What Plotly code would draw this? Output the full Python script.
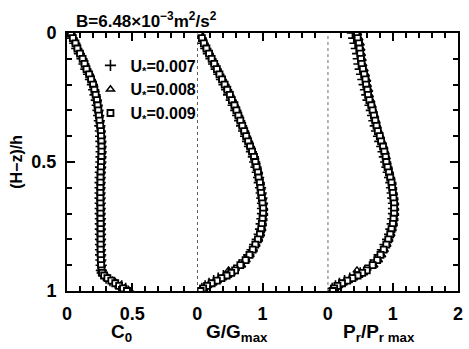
import plotly.graph_objects as go
from plotly.subplots import make_subplots

# normalized depth (H-z)/h
depth = [0.00, 0.02, 0.04, 0.06, 0.08, 0.10, 0.12, 0.14, 0.16, 0.18,
         0.20, 0.22, 0.24, 0.26, 0.28, 0.30, 0.32, 0.34, 0.36, 0.38,
         0.40, 0.42, 0.44, 0.46, 0.48, 0.50, 0.52, 0.54, 0.56, 0.58,
         0.60, 0.62, 0.64, 0.66, 0.68, 0.70, 0.72, 0.74, 0.76, 0.78,
         0.80, 0.82, 0.84, 0.86, 0.88, 0.90, 0.92, 0.93, 0.94, 0.95,
         0.96, 0.97, 0.98, 0.99, 1.00]

# C0 profiles
c0_u007 = [0.02, 0.04, 0.06, 0.075, 0.095, 0.115, 0.13, 0.145, 0.165, 0.18,
           0.195, 0.205, 0.215, 0.225, 0.232, 0.238, 0.243, 0.248, 0.252, 0.256,
           0.258, 0.26, 0.262, 0.262, 0.261, 0.26, 0.258, 0.256, 0.255, 0.254,
           0.254, 0.254, 0.254, 0.255, 0.255, 0.255, 0.256, 0.256, 0.256, 0.257,
           0.257, 0.257, 0.257, 0.258, 0.26, 0.262, 0.264, 0.27, 0.28, 0.30,
           0.33, 0.37, 0.42, 0.45, 0.47]
c0_u008 = [0.035, 0.05, 0.07, 0.085, 0.105, 0.125, 0.14, 0.155, 0.175, 0.19,
           0.205, 0.215, 0.225, 0.232, 0.238, 0.243, 0.248, 0.253, 0.258, 0.262,
           0.265, 0.267, 0.268, 0.268, 0.267, 0.265, 0.263, 0.261, 0.26, 0.259,
           0.259, 0.258, 0.258, 0.258, 0.259, 0.259, 0.26, 0.26, 0.26, 0.26,
           0.26, 0.26, 0.261, 0.262, 0.263, 0.265, 0.268, 0.275, 0.29, 0.32,
           0.35, 0.38, 0.41, 0.44, 0.48]
c0_u009 = [0.03, 0.045, 0.065, 0.08, 0.10, 0.12, 0.135, 0.15, 0.17, 0.185,
           0.20, 0.21, 0.22, 0.23, 0.235, 0.24, 0.245, 0.25, 0.255, 0.26,
           0.262, 0.264, 0.265, 0.265, 0.264, 0.262, 0.26, 0.258, 0.257, 0.257,
           0.256, 0.256, 0.256, 0.256, 0.257, 0.257, 0.257, 0.258, 0.258, 0.258,
           0.258, 0.258, 0.258, 0.259, 0.26, 0.262, 0.265, 0.27, 0.285, 0.31,
           0.34, 0.37, 0.40, 0.43, 0.46]

# G/Gmax profiles
g_u007 = [0.02, 0.06, 0.09, 0.13, 0.17, 0.21, 0.25, 0.29, 0.33, 0.37,
          0.41, 0.45, 0.48, 0.52, 0.55, 0.59, 0.62, 0.65, 0.68, 0.71,
          0.74, 0.77, 0.80, 0.83, 0.86, 0.88, 0.90, 0.92, 0.94, 0.95,
          0.97, 0.98, 0.99, 1.00, 1.00, 1.00, 0.99, 0.98, 0.97, 0.95,
          0.92, 0.88, 0.84, 0.79, 0.72, 0.64, 0.56, 0.48, 0.40, 0.32,
          0.25, 0.18, 0.12, 0.07, 0.04]
g_u008 = [0.04, 0.08, 0.11, 0.15, 0.19, 0.23, 0.27, 0.31, 0.35, 0.39,
          0.43, 0.47, 0.51, 0.54, 0.58, 0.61, 0.64, 0.67, 0.70, 0.73,
          0.76, 0.79, 0.82, 0.85, 0.88, 0.90, 0.92, 0.94, 0.95, 0.97,
          0.98, 0.99, 1.00, 1.01, 1.02, 1.02, 1.01, 1.00, 0.99, 0.97,
          0.94, 0.90, 0.86, 0.81, 0.75, 0.68, 0.48, 0.52, 0.47, 0.39,
          0.31, 0.24, 0.16, 0.10, 0.06]
g_u009 = [0.03, 0.07, 0.10, 0.14, 0.18, 0.22, 0.26, 0.30, 0.34, 0.38,
          0.42, 0.46, 0.50, 0.53, 0.57, 0.60, 0.63, 0.66, 0.69, 0.72,
          0.75, 0.78, 0.81, 0.84, 0.87, 0.89, 0.91, 0.93, 0.94, 0.96,
          0.97, 0.98, 0.99, 1.00, 1.01, 1.01, 1.00, 0.99, 0.98, 0.96,
          0.93, 0.89, 0.85, 0.80, 0.74, 0.66, 0.58, 0.52, 0.45, 0.37,
          0.30, 0.22, 0.15, 0.09, 0.05]

# Pr/Pr max profiles
p_u007 = [0.38, 0.40, 0.42, 0.44, 0.46, 0.47, 0.48, 0.50, 0.52, 0.54,
          0.56, 0.58, 0.60, 0.62, 0.65, 0.67, 0.69, 0.71, 0.73, 0.75,
          0.78, 0.80, 0.83, 0.85, 0.87, 0.89, 0.91, 0.93, 0.95, 0.97,
          0.98, 0.99, 1.00, 1.01, 1.01, 1.01, 1.00, 0.99, 0.97, 0.95,
          0.92, 0.88, 0.84, 0.79, 0.73, 0.66, 0.57, 0.50, 0.42, 0.34,
          0.26, 0.18, 0.12, 0.07, 0.05]
p_u008 = [0.46, 0.48, 0.50, 0.51, 0.52, 0.53, 0.54, 0.56, 0.58, 0.60,
          0.61, 0.63, 0.64, 0.66, 0.68, 0.70, 0.72, 0.74, 0.76, 0.78,
          0.81, 0.83, 0.86, 0.88, 0.90, 0.91, 0.93, 0.95, 0.97, 0.99,
          1.00, 1.01, 1.02, 1.03, 1.03, 1.03, 1.02, 1.01, 0.99, 0.97,
          0.94, 0.91, 0.87, 0.83, 0.78, 0.71, 0.45, 0.55, 0.48, 0.40,
          0.32, 0.24, 0.17, 0.11, 0.09]
p_u009 = [0.44, 0.46, 0.48, 0.49, 0.50, 0.51, 0.52, 0.54, 0.56, 0.58,
          0.59, 0.61, 0.62, 0.64, 0.67, 0.69, 0.71, 0.73, 0.75, 0.77,
          0.80, 0.82, 0.85, 0.87, 0.89, 0.90, 0.92, 0.94, 0.96, 0.98,
          0.99, 1.00, 1.01, 1.02, 1.02, 1.02, 1.01, 1.00, 0.98, 0.96,
          0.93, 0.90, 0.86, 0.81, 0.76, 0.69, 0.60, 0.53, 0.46, 0.38,
          0.30, 0.22, 0.15, 0.10, 0.08]

series_names = ["U<sub>*</sub>=0.007", "U<sub>*</sub>=0.008", "U<sub>*</sub>=0.009"]
series_symbols = ["cross-thin", "triangle-up-open", "square"]
series_fill = ["black", "black", "white"]
series_size = [8, 7, 6]
series_lw = [1.6, 1.5, 1.8]
c0_data = [c0_u007, c0_u008, c0_u009]
g_data = [g_u007, g_u008, g_u009]
p_data = [p_u007, p_u008, p_u009]

FONT = "Liberation Sans"

fig = make_subplots(rows=1, cols=3, shared_yaxes=True, horizontal_spacing=0)

for i in range(3):
    for col, xs in enumerate([c0_data[i], g_data[i], p_data[i]], start=1):
        fig.add_trace(go.Scatter(
            x=xs, y=depth, mode="markers", name=series_names[i],
            legendgroup=series_names[i], showlegend=(col == 1),
            marker=dict(symbol=series_symbols[i], size=series_size[i], color=series_fill[i],
                        line=dict(color="black", width=series_lw[i])),
        ), row=1, col=col)

tickfont = dict(family=FONT, size=18, color="black", weight="bold")
xcommon = dict(showline=True, linecolor="black", linewidth=2, mirror="allticks",
               ticks="inside", ticklen=8, tickwidth=1.5, tickcolor="black",
               showgrid=False, zeroline=False, ticklabelstandoff=5,
               tickfont=tickfont)

fig.update_xaxes(range=[0, 1], tickvals=[0, 0.5], ticktext=["0", "0.5"],
                 minor=dict(ticks="inside", ticklen=5, tickwidth=1.5, tickcolor="black",
                            dtick=0.1, tick0=0, showgrid=False),
                 **xcommon, row=1, col=1)
fig.update_xaxes(range=[0, 2], tickvals=[0, 1], ticktext=["0", "1"],
                 minor=dict(ticks="inside", ticklen=5, tickwidth=1.5, tickcolor="black",
                            dtick=0.2, tick0=0, showgrid=False),
                 **xcommon, row=1, col=2)
fig.update_xaxes(range=[0, 2], tickvals=[0, 1, 2], ticktext=["0", "1", "2"],
                 minor=dict(ticks="inside", ticklen=5, tickwidth=1.5, tickcolor="black",
                            dtick=0.2, tick0=0, showgrid=False),
                 **xcommon, row=1, col=3)

yminor = dict(ticks="inside", ticklen=5, tickwidth=1.5, tickcolor="black",
              dtick=0.1, tick0=0, showgrid=False)
fig.update_yaxes(range=[1, 0], showgrid=False, zeroline=False)
fig.update_yaxes(showline=True, linecolor="black", linewidth=2, ticks="inside",
                 ticklen=8, tickwidth=1.5, tickcolor="black",
                 tickvals=[0, 0.5, 1], ticktext=["0", "0.5", "1"], ticklabelstandoff=5,
                 tickfont=tickfont, minor=yminor, row=1, col=1)
fig.update_yaxes(showline=False, ticks="", showticklabels=False, row=1, col=2)
fig.update_yaxes(showline=True, linecolor="black", linewidth=2, side="right",
                 ticks="inside", ticklen=8, tickwidth=1.5, tickcolor="black",
                 tickvals=[0, 0.5, 1], showticklabels=False, minor=yminor, row=1, col=3)

for xr in ["x2", "x3"]:
    fig.add_shape(type="line", xref=xr, yref="paper", x0=0, x1=0, y0=0, y1=1,
                  line=dict(color="black", width=1.2, dash="dot"))

fig.add_annotation(text="B=6.48×10<sup>−3</sup>m<sup>2</sup>/s<sup>2</sup>",
                   xref="paper", yref="paper", x=0.018, y=1.05, xanchor="left",
                   yanchor="middle", showarrow=False,
                   font=dict(family=FONT, size=17, color="black", weight="bold"))
fig.add_annotation(text="(H−z)/h", xref="paper", yref="paper", x=-0.131, y=0.5,
                   textangle=-90, showarrow=False, xanchor="center", yanchor="middle",
                   font=dict(family=FONT, size=16, color="black", weight="bold"))
lab_font = dict(family=FONT, size=19, color="black", weight="bold")
fig.add_annotation(text="C<sub>0</sub>", xref="paper", yref="paper", x=0.139, y=-0.163,
                   showarrow=False, xanchor="center", yanchor="middle", font=lab_font)
fig.add_annotation(text="G/G<sub>max</sub>", xref="paper", yref="paper", x=0.434, y=-0.163,
                   showarrow=False, xanchor="center", yanchor="middle", font=lab_font)
fig.add_annotation(text="P<sub>r</sub>/P<sub>r max</sub>", xref="paper", yref="paper",
                   x=0.798, y=-0.163, showarrow=False, xanchor="center", yanchor="middle",
                   font=lab_font)

fig.update_layout(
    width=469, height=349,
    margin=dict(l=67, r=6, t=33, b=58),
    paper_bgcolor="white", plot_bgcolor="white",
    showlegend=True,
    legend=dict(x=0.06, y=0.94, xanchor="left", yanchor="top",
                bgcolor="rgba(0,0,0,0)", borderwidth=0,
                font=dict(family=FONT, size=16, color="black", weight="bold"),
                tracegroupgap=0, itemsizing="trace"),
)

fig.write_html("out.html")
